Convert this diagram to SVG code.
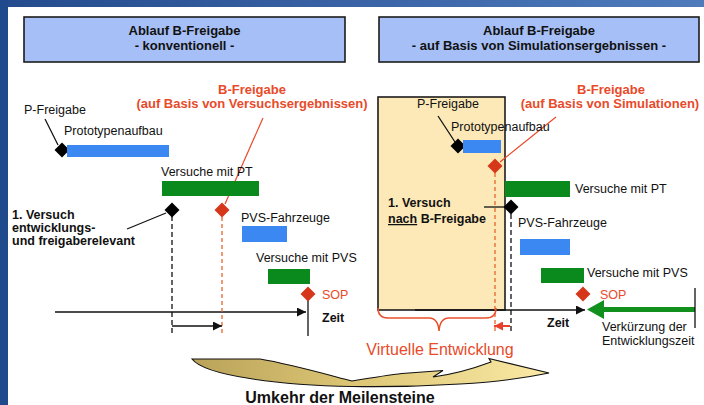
<svg xmlns="http://www.w3.org/2000/svg" width="704" height="405" viewBox="0 0 704 405">
  <defs>
    <style>
      .t { font-family: "Liberation Sans", Arial, sans-serif; font-size: 12.5px; fill: #111; }
      .b { font-weight: bold; }
      .red { fill: #e84a2a; }
      .s13 { font-size: 13px; }
      .s16 { font-size: 16px; }
      .mid { text-anchor: middle; }
      .hdr { font-family: "Liberation Sans", Arial, sans-serif; font-size: 13px; font-weight: bold; fill: #111; text-anchor: middle; }
      .box { fill: #a6bff6; stroke: #1c1c1c; stroke-width: 1.6; }
      .barB { fill: #3c88f2; }
      .barG { fill: #0a8a1c; }
      .dashK { stroke: #111; stroke-width: 1.3; stroke-dasharray: 5 3; fill: none; }
      .dashR { stroke: #e8642a; stroke-width: 1.3; stroke-dasharray: 4 3; fill: none; }
      .ln { stroke: #111; stroke-width: 1.3; fill: none; }
      .lnR { stroke: #e84a2a; stroke-width: 1.2; fill: none; }
    </style>
    <linearGradient id="topBand" x1="0" y1="0" x2="1" y2="0">
      <stop offset="0" stop-color="#234b8e"/>
      <stop offset="1" stop-color="#4f7bbd"/>
    </linearGradient>
    <linearGradient id="bend" x1="0" y1="0" x2="1" y2="0">
      <stop offset="0" stop-color="#b9a35a"/>
      <stop offset="0.45" stop-color="#dcc574"/>
      <stop offset="1" stop-color="#fbeaa6"/>
    </linearGradient>
    <marker id="ahK" viewBox="0 0 10 10" refX="10" refY="5" markerWidth="9" markerHeight="9" markerUnits="userSpaceOnUse" orient="auto">
      <path d="M0,0 L10,5 L0,10 z" fill="#111"/>
    </marker>
    <marker id="ahR" viewBox="0 0 10 10" refX="10" refY="5" markerWidth="9" markerHeight="9" markerUnits="userSpaceOnUse" orient="auto">
      <path d="M0,0 L10,5 L0,10 z" fill="#e8402a"/>
    </marker>
    <path id="dia" d="M0,-7.5 L7.5,0 L0,7.5 L-7.5,0 z"/>
  </defs>

  <!-- frame -->
  <rect x="0" y="0" width="704" height="405" fill="#ffffff"/>
  <rect x="0" y="0" width="704" height="7" fill="url(#topBand)"/>
  <rect x="0" y="0" width="8" height="405" fill="#1f4a8c"/>

  <!-- headers -->
  <g id="header-left">
    <rect class="box" x="24" y="17" width="321" height="45"/>
    <text class="hdr" x="184.5" y="35">Ablauf B-Freigabe</text>
    <text class="hdr" x="184.5" y="50">- konventionell -</text>
  </g>
  <g id="header-right">
    <rect class="box" x="379" y="17" width="320" height="45"/>
    <text class="hdr" x="539" y="35">Ablauf B-Freigabe</text>
    <text class="hdr" x="539" y="50">- auf Basis von Simulationsergebnissen -</text>
  </g>

  <!-- virtual development area -->
  <g id="virtual-area">
    <rect x="378" y="97" width="127" height="213" fill="#fde9b8" stroke="#1c1c1c" stroke-width="1.6"/>
  </g>

  <!-- connectors -->
  <g id="connectors">
    <!-- left timeline -->
    <line class="ln" x1="55" y1="312" x2="306" y2="312" marker-end="url(#ahK)"/>
    <line class="ln" x1="308" y1="298" x2="308" y2="336"/>
    <line class="dashK" x1="172" y1="216" x2="172" y2="335"/>
    <line class="dashR" x1="222" y1="217" x2="222" y2="335"/>
    <line class="ln" x1="172" y1="326" x2="222" y2="326" marker-end="url(#ahK)"/>
    <line class="ln" x1="45" y1="119" x2="58" y2="145"/>
    <line class="ln" x1="127" y1="229" x2="166" y2="213"/>
    <line class="lnR" x1="263" y1="118" x2="225" y2="204"/>

    <!-- right timeline -->
    <line class="ln" x1="415" y1="310" x2="585" y2="310" marker-end="url(#ahK)"/>
    <line class="dashR" x1="495" y1="173" x2="495" y2="333"/>
    <line class="dashK" x1="511" y1="214" x2="511" y2="333"/>
    <line x1="510" y1="326" x2="494" y2="326" stroke="#e8402a" stroke-width="2" marker-end="url(#ahR)"/>
    <line class="ln" x1="438" y1="116" x2="455" y2="142"/>
    <line class="ln" x1="484" y1="207" x2="505" y2="207"/>
    <line class="lnR" x1="556" y1="117" x2="500" y2="162"/>
    <path d="M378,308 Q378,318 388,318 L429,318 Q438,318 439,331 Q440,318 449,318 L486,318 Q496,318 496,308" fill="none" stroke="#e8502a" stroke-width="1.5"/>

    <!-- shortening arrow -->
    <polygon points="695,307 604,307 604,300 587,309.5 604,319 604,312 695,312" fill="#12901e"/>
    <line class="ln" x1="695" y1="288" x2="695" y2="328"/>

    <!-- reversal arrow -->
    <path d="M192,359 L260,359 C290,364 325,374 352,381 C370,378 388,375 402,373.5 L443,370.5 L433,377 C455,374 475,368 491,362 L489,358.5 L549,373 C525,378 495,382 460,384 C420,386.5 385,387 352,386.5 C280,385 205,376 192,359 z" fill="url(#bend)" stroke="#111" stroke-width="1.1"/>
  </g>

  <!-- left side nodes -->
  <g id="l-pfreigabe">
    <text class="t" x="24" y="114">P-Freigabe</text>
    <use href="#dia" x="62" y="150" fill="#000"/>
  </g>
  <g id="l-prototyp">
    <text class="t" x="64" y="134.5">Prototypenaufbau</text>
    <rect class="barB" x="67" y="145" width="102" height="12"/>
  </g>
  <g id="l-bfreigabe">
    <text class="t b red s13 mid" x="252" y="94">B-Freigabe</text>
    <text class="t b red s13 mid" x="252" y="108">(auf Basis von Versuchsergebnissen)</text>
    <use href="#dia" x="222" y="210" fill="#d6361a"/>
  </g>
  <g id="l-versuche-pt">
    <text class="t" x="161" y="176">Versuche mit PT</text>
    <rect class="barG" x="162" y="181" width="97" height="15"/>
  </g>
  <g id="l-versuch1">
    <text class="t b" x="12" y="219">1. Versuch</text>
    <text class="t b" x="12" y="232">entwicklungs-</text>
    <text class="t b" x="12" y="245">und freigaberelevant</text>
    <use href="#dia" x="172" y="210" fill="#000"/>
  </g>
  <g id="l-pvs">
    <text class="t" x="241" y="222">PVS-Fahrzeuge</text>
    <rect class="barB" x="242" y="226" width="45" height="16"/>
  </g>
  <g id="l-versuche-pvs">
    <text class="t" x="256" y="262">Versuche mit PVS</text>
    <rect class="barG" x="268" y="269" width="42" height="15"/>
  </g>
  <g id="l-sop">
    <use href="#dia" x="308" y="294" fill="#d6361a"/>
    <text class="t red" x="322" y="299">SOP</text>
    <text class="t b" x="322" y="322">Zeit</text>
  </g>

  <!-- right side nodes -->
  <g id="r-pfreigabe">
    <text class="t" x="417" y="108">P-Freigabe</text>
    <use href="#dia" x="458" y="146" fill="#000"/>
  </g>
  <g id="r-prototyp">
    <text class="t" x="451" y="131">Prototypenaufbau</text>
    <rect class="barB" x="463" y="140" width="38" height="13"/>
  </g>
  <g id="r-bfreigabe">
    <text class="t b red s13 mid" x="611" y="94">B-Freigabe</text>
    <text class="t b red s13 mid" x="610" y="108">(auf Basis von Simulationen)</text>
    <use href="#dia" x="495" y="166" fill="#d6361a"/>
  </g>
  <g id="r-versuche-pt">
    <rect class="barG" x="505" y="181" width="65" height="16"/>
    <text class="t" x="575" y="193">Versuche mit PT</text>
  </g>
  <g id="r-versuch1">
    <text class="t b" x="388" y="207">1. Versuch</text>
    <text class="t b" x="388" y="223"><tspan text-decoration="underline">nach</tspan> B-Freigabe</text>
    <use href="#dia" x="511" y="207" fill="#000"/>
  </g>
  <g id="r-pvs">
    <text class="t" x="518" y="227">PVS-Fahrzeuge</text>
    <rect class="barB" x="520" y="239" width="50" height="16"/>
  </g>
  <g id="r-versuche-pvs">
    <rect class="barG" x="541" y="268" width="43" height="15"/>
    <text class="t" x="587" y="277">Versuche mit PVS</text>
  </g>
  <g id="r-sop">
    <use href="#dia" x="583" y="294" fill="#d6361a"/>
    <text class="t red" x="600" y="299">SOP</text>
    <text class="t b" x="547" y="327">Zeit</text>
  </g>
  <g id="r-verkuerzung">
    <text class="t" x="602" y="331">Verkürzung der</text>
    <text class="t" x="602" y="345">Entwicklungszeit</text>
  </g>

  <!-- captions -->
  <g id="captions">
    <text class="t red s16 mid" x="440" y="355">Virtuelle Entwicklung</text>
    <text class="t b s16 mid" x="340" y="403">Umkehr der Meilensteine</text>
  </g>
</svg>
